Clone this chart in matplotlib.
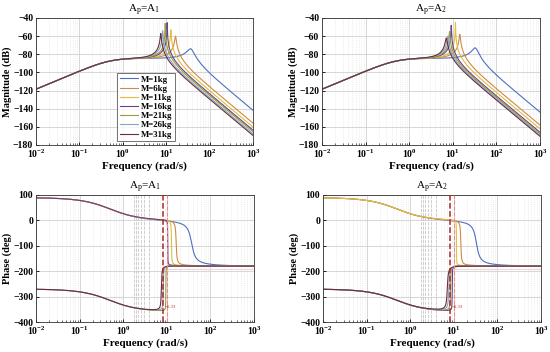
import numpy as np
import matplotlib
matplotlib.use("Agg")
import matplotlib.pyplot as plt
from matplotlib.ticker import LogLocator, NullFormatter

# ---------------- data ----------------
masses = [1, 6, 11, 16, 21, 26, 31]
labels = [f"M={m}kg" for m in masses]
colors = ['#4f6fbf', '#d08a45', '#e3bd3c', '#6a3f8c', '#93a03c', '#86a6c4', '#6a2e3c']

base_db = -84.5        # plateau level of the magnitude (dB)
corner = 0.5           # low-frequency corner (rad/s)

# resonance frequency (rad/s) and peak level (dB) per mass
wn_A1 = [37.0, 16.4, 12.8, 10.5, 9.5, 8.3, 7.5]
pk_A1 = [-74, -60, -53, -45, -46, -54, -57]
wn_A2 = [33.0, 14.5, 11.5, 9.2, 8.4, 7.7, 7.1]
pk_A2 = [-73, -58, -45, -48, -55, -60, -62]

# which phase curves are drawn in the lower (-360 shifted) branch
wrap_A1 = [False, False, False, False, True, True, True]
wrap_A2 = [False, False, False, True, True, True, True]

marker_freq = 8.33
marker_freq2 = 10.0
guide_freqs = [1.8, 2.0, 2.2, 2.5, 3.0, 4.0]

titles = [r"A$_\mathregular{p}$=A$_\mathregular{1}$", r"A$_\mathregular{p}$=A$_\mathregular{2}$"]

# ---------------- figure ----------------
plt.rcParams['font.family'] = ['Liberation Serif', 'DejaVu Serif']
plt.rcParams['mathtext.fontset'] = 'custom'
plt.rcParams['mathtext.rm'] = 'Liberation Serif'

fig = plt.figure(figsize=(5.5, 3.52), dpi=100)
W, H = 550, 352

def add_ax(l, r, t, b):
    return fig.add_axes([l / W, 1 - b / H, (r - l) / W, (b - t) / H])

ax_m1 = add_ax(36, 253, 18, 145)
ax_m2 = add_ax(322, 540, 18, 145)
ax_p1 = add_ax(36, 254, 195, 322)
ax_p2 = add_ax(323, 541, 195, 322)

w = np.logspace(-2, 3, 5000)

def response(wn, pk):
    zeta = 1.0 / (2 * 10 ** ((pk - base_db) / 20.0))
    r = w / wn
    lead = (1j * w) / (1j * w + corner)
    res = 1.0 / (1 - r ** 2 + 1j * 2 * zeta * r)
    mag = base_db + 20 * np.log10(np.abs(lead * res))
    ph_lead = np.degrees(np.angle(lead))
    ph_res = np.degrees(np.arctan2(2 * zeta * r, 1 - r ** 2))
    return mag, ph_lead, ph_res

def style(ax, ylim, yticks, ylabel, title):
    ax.set_xscale('log')
    ax.set_xlim(1e-2, 1e3)
    ax.set_ylim(*ylim)
    ax.set_yticks(yticks)
    ax.xaxis.set_major_locator(LogLocator(base=10, numticks=10))
    ax.xaxis.set_minor_locator(LogLocator(base=10, subs=np.arange(2, 10), numticks=10))
    ax.xaxis.set_minor_formatter(NullFormatter())
    ax.grid(True, which='major', color='#d0d0d0', lw=0.6)
    ax.grid(True, which='minor', axis='x', color='#e0e0e0', lw=0.5, ls=':')
    ax.set_axisbelow(True)
    ax.tick_params(labelsize=7, length=2, width=0.6, direction='in', pad=2)
    ax.tick_params(which='minor', length=1.2, width=0.4, direction='in')
    for lab in ax.get_xticklabels() + ax.get_yticklabels():
        lab.set_fontweight('bold')
    ax.set_xlabel('Frequency (rad/s)', fontsize=8, fontweight='bold', labelpad=1)
    ax.set_ylabel(ylabel, fontsize=7.5, fontweight='bold', labelpad=1)
    ax.set_title(title, fontsize=8, pad=2)
    for s in ax.spines.values():
        s.set_linewidth(0.6)
        s.set_color('#333333')

for ax_m, ax_p, wns, pks, wraps, title in [
        (ax_m1, ax_p1, wn_A1, pk_A1, wrap_A1, titles[0]),
        (ax_m2, ax_p2, wn_A2, pk_A2, wrap_A2, titles[1])]:
    for lab, c, wn, pk, wr in zip(labels, colors, wns, pks, wraps):
        mag, ph_lead, ph_res = response(wn, pk)
        ax_m.plot(w, mag, color=c, lw=0.8, label=lab)
        if wr:
            ph = ph_lead - 360 + ph_res
        else:
            ph = ph_lead - ph_res
        ax_p.plot(w, ph, color=c, lw=0.8)
    style(ax_m, (-180, -40), np.arange(-180, -39, 20), 'Magnitude (dB)', title)
    style(ax_p, (-400, 100), np.arange(-400, 101, 100), 'Phase (deg)', title)
    for g in guide_freqs:
        ax_p.axvline(g, color='#c8c8c8', lw=0.6, ls='--', zorder=1)
    ax_p.axvline(marker_freq, color='#a52a2a', lw=1.1, ls='--', zorder=3)
    ax_p.axvline(marker_freq2, color='#ec8a8a', lw=0.8, ls='--', zorder=3)
    ax_p.axhline(-190, xmin=0.6, xmax=1.0, color='#f6caca', lw=0.6, zorder=1)
    ax_p.text(marker_freq * 1.1, -345, '=8.33', fontsize=3.5, color='#c03030')

leg = ax_m1.legend(loc='lower left', bbox_to_anchor=(0.375, 0.03),
                   prop={'weight': 'bold', 'size': 6.3}, frameon=True, fancybox=False,
                   borderpad=0.3, labelspacing=0.12, handlelength=2.0, handletextpad=0.4,
                   borderaxespad=0.0)
leg.get_frame().set_edgecolor('#333333')
leg.get_frame().set_linewidth(0.6)

fig.savefig('out.png', dpi=100)
